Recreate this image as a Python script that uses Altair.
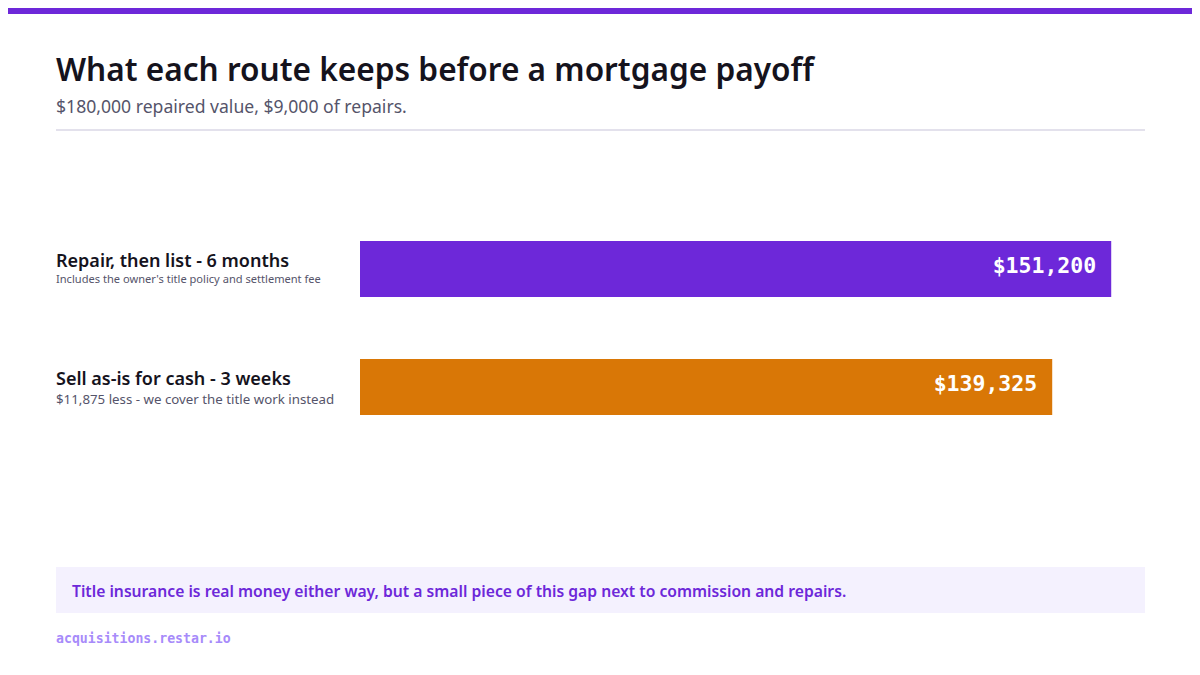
import pandas as pd
import altair as alt

# values
routes = ["Repair, then list - 6 months", "Sell as-is for cash - 3 weeks"]
notes = [
    "Includes the owner's title policy and settlement fee",
    "$11,875 less - we cover the title work instead",
]
kept = [151200, 139325]
bar_colors = ["#6D28D9", "#D97706"]

title_text = "What each route keeps before a mortgage payoff"
subtitle_text = "$180,000 repaired value, $9,000 of repairs."
callout_text = ("Title insurance is real money either way, but a small piece "
                "of this gap next to commission and repairs.")
footer_text = "acquisitions.restar.io"

SANS = "Noto Sans"
MONO = "DejaVu Sans Mono"
W, H = 1184, 659

df = pd.DataFrame({"route": routes, "note": notes, "kept": kept})
one = pd.DataFrame({"k": [0]})

x_scale = alt.Scale(domain=[0, 158000], range=[352, 1137], nice=False, zero=True)
y_scale = alt.Scale(domain=routes, range=[233, 407], paddingInner=0.5254, paddingOuter=0)


def deco_rect(x, x2, y, y2, color):
    return alt.Chart(one).mark_rect(color=color).encode(
        x=alt.value(x), x2=alt.value(x2), y=alt.value(y), y2=alt.value(y2)
    )


def deco_text(text, x, y, size, color, font=SANS, weight="normal", baseline="alphabetic"):
    return alt.Chart(one).mark_text(
        text=text, align="left", baseline=baseline, font=font,
        fontSize=size, fontWeight=weight, color=color
    ).encode(x=alt.value(x), y=alt.value(y))


band = deco_rect(0, W, 0, 6, "#6D28D9")
title = deco_text(title_text, 48, 73, 31.6, "#15131D", weight=600)
subtitle = deco_text(subtitle_text, 48, 105, 17.6, "#55546A")
divider = deco_rect(48, 1137, 121, 123, "#E3E1EC")

bars = alt.Chart(df).mark_bar().encode(
    x=alt.X("kept:Q", scale=x_scale, axis=None),
    y=alt.Y("route:N", scale=y_scale, axis=None, sort=routes),
    color=alt.Color("route:N", scale=alt.Scale(domain=routes, range=bar_colors), legend=None),
)

values = alt.Chart(df).mark_text(
    align="right", baseline="middle", dx=-15, dy=-2, font=MONO, fontSize=21.5,
    fontWeight="bold", color="white"
).encode(
    x=alt.X("kept:Q", scale=x_scale, axis=None),
    y=alt.Y("route:N", scale=y_scale, axis=None, sort=routes),
    text=alt.Text("kept:Q", format="$,.0f"),
)

labels = alt.Chart(df).mark_text(
    align="left", baseline="alphabetic", dy=-2, font=SANS, fontSize=18,
    fontWeight=600, color="#15131D"
).encode(
    x=alt.value(48),
    y=alt.Y("route:N", scale=y_scale, axis=None, sort=routes),
    text="route:N",
)

# note under each label, the first one set a little smaller
note_layers = []
for route, size, dy in zip(routes, [11.1, 13.3], [14, 17]):
    note_layers.append(
        alt.Chart(df).transform_filter(alt.datum.route == route).mark_text(
            align="left", baseline="alphabetic", dy=dy, font=SANS, fontSize=size,
            color="#55546A"
        ).encode(
            x=alt.value(48),
            y=alt.Y("route:N", scale=y_scale, axis=None, sort=routes),
            text="note:N",
        )
    )

callout_box = deco_rect(48, 1137, 559, 605, "#F4F1FE")
callout = deco_text(callout_text, 64, 584, 15.7, "#6D28D9", weight=600, baseline="middle")
footer = deco_text(footer_text, 48, 631, 13.2, "#A78BFA", font=MONO, weight="bold",
                   baseline="middle")

chart = alt.layer(
    band, title, subtitle, divider, bars, values, labels, *note_layers,
    callout_box, callout, footer
).properties(
    width=W, height=H, autosize="none", padding=0, background="white"
).configure_view(stroke=None)

chart.save("out.html", embed_options={"renderer": "svg", "actions": False})
